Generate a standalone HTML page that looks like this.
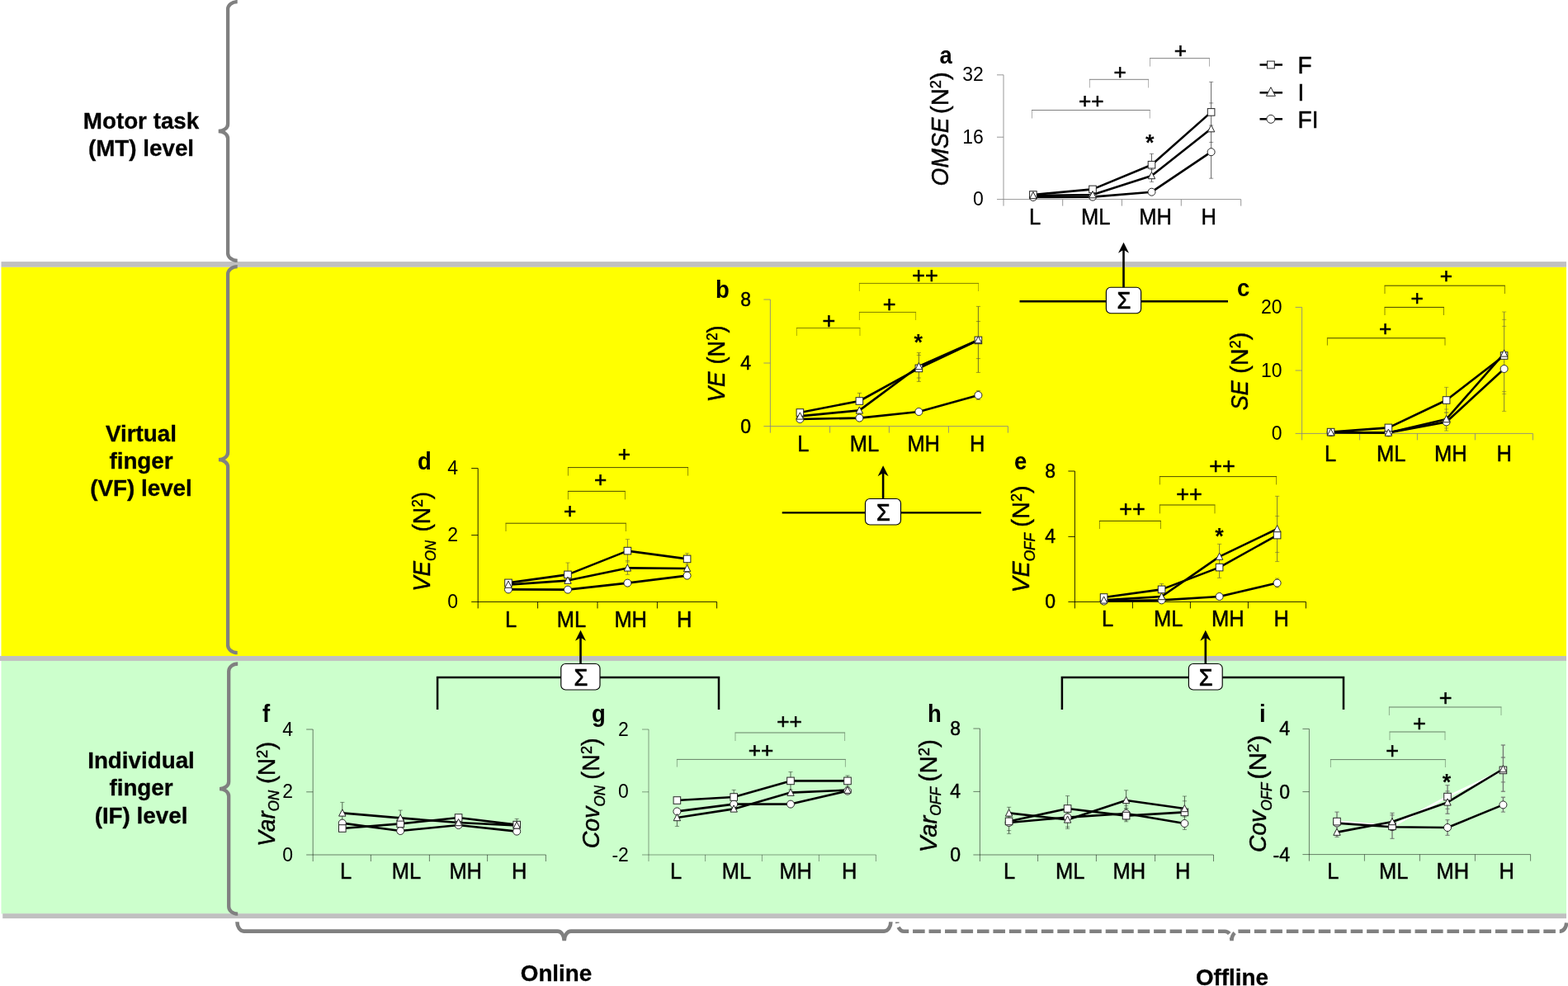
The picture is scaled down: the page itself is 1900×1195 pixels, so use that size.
<!DOCTYPE html>
<html lang="en"><head><meta charset="utf-8"><title>Figure</title>
<style>html,body{margin:0;padding:0;background:#fff;}body{width:1900px;height:1195px;overflow:hidden;}svg{display:block;font-family:"Liberation Sans", Arial, Helvetica, sans-serif;} text{fill:#000;}</style></head><body>
<svg width="1900" height="1195" viewBox="0 0 1900 1195">
<rect x="0" y="0" width="1900" height="1195" fill="#ffffff"/>
<rect x="1.5" y="323.5" width="1896.5" height="472" fill="#ffff00"/>
<rect x="1.5" y="800.5" width="1896.5" height="307" fill="#ccffcc"/>
<rect x="1.5" y="317.1" width="1896.5" height="6.6" fill="#c0c0c0"/>
<rect x="0" y="795.05" width="1898" height="5.9" fill="#c0c0c0"/>
<rect x="3.2" y="1107.2" width="1894.8" height="5.9" fill="#c0c0c0"/>
<path d="M287.7,2.1 A11.6,9 0 0 0 276.1,11.1 L276.1,150.2 A11.4,8.8 0 0 1 264.7,159 A11.4,8.8 0 0 1 276.1,167.8 L276.1,306.9 A11.6,9 0 0 0 287.7,315.9" fill="none" stroke="#808080" stroke-width="4.3" stroke-linejoin="miter"/>
<path d="M287.7,323.2 A11.6,9 0 0 0 276.1,332.2 L276.1,548.35 A11.2,8.8 0 0 1 264.9,557.15 A11.2,8.8 0 0 1 276.1,565.95 L276.1,782.1 A11.6,9 0 0 0 287.7,791.1" fill="none" stroke="#808080" stroke-width="4.3" stroke-linejoin="miter"/>
<path d="M288.2,804.5 A11,9 0 0 0 277.2,813.5 L277.2,947.3 A11.2,8.8 0 0 1 266,956.1 A11.2,8.8 0 0 1 277.2,964.9 L277.2,1098.7 A11,9 0 0 0 288.2,1107.7" fill="none" stroke="#808080" stroke-width="4.3" stroke-linejoin="miter"/>
<path d="M287.4,1117.3 A8,11.3 0 0 0 295.4,1128.6 L675.5,1128.6 A8.2,11.6 0 0 1 683.7,1140.2 A8.2,11.6 0 0 1 691.9,1128.6 L1071.4,1128.6 A8,11.3 0 0 0 1079.4,1117.3" fill="none" stroke="#808080" stroke-width="4.6"/>
<path d="M1087.3,1117.4 A8,11.3 0 0 0 1095.3,1128.7 L1484.3,1128.7 A8.2,11.5 0 0 1 1492.5,1140.2 A8.2,11.5 0 0 1 1500.7,1128.7 L1890.3,1128.7 A8,11.3 0 0 0 1898.3,1117.4" fill="none" stroke="#808080" stroke-width="4.6" stroke-dasharray="14.6 4.87" stroke-dashoffset="13"/>
<text transform="translate(171,155.6) scale(1,1.02)" font-size="27.8" text-anchor="middle" font-weight="bold" stroke="#000" stroke-width="0.3">Motor task</text>
<text transform="translate(171,189.3) scale(1,1.02)" font-size="27.8" text-anchor="middle" font-weight="bold" stroke="#000" stroke-width="0.3">(MT) level</text>
<text transform="translate(171,534.7) scale(1,1.02)" font-size="27.8" text-anchor="middle" font-weight="bold" stroke="#000" stroke-width="0.3">Virtual</text>
<text transform="translate(171,567.7) scale(1,1.02)" font-size="27.8" text-anchor="middle" font-weight="bold" stroke="#000" stroke-width="0.3">finger</text>
<text transform="translate(171,601) scale(1,1.02)" font-size="27.8" text-anchor="middle" font-weight="bold" stroke="#000" stroke-width="0.3">(VF) level</text>
<text transform="translate(171,931.4) scale(1,1.02)" font-size="27.8" text-anchor="middle" font-weight="bold" stroke="#000" stroke-width="0.3">Individual</text>
<text transform="translate(171,964.4) scale(1,1.02)" font-size="27.8" text-anchor="middle" font-weight="bold" stroke="#000" stroke-width="0.3">finger</text>
<text transform="translate(171,998) scale(1,1.02)" font-size="27.8" text-anchor="middle" font-weight="bold" stroke="#000" stroke-width="0.3">(IF) level</text>
<text transform="translate(674,1188.5) scale(1,1.02)" font-size="27.8" text-anchor="middle" font-weight="bold" stroke="#000" stroke-width="0.3">Online</text>
<text transform="translate(1493,1193.6) scale(1,1.02)" font-size="27.8" text-anchor="middle" font-weight="bold" stroke="#000" stroke-width="0.3">Offline</text>
<path d="M1235.5,365.2 H1488" stroke="#000" stroke-width="2.4" fill="none"/>
<line x1="1361.5" y1="299.8" x2="1361.5" y2="349" stroke="#000" stroke-width="2.6"/>
<path d="M1361.5,293.8 L1368,306.8 L1361.5,302.8 L1355,306.8 Z" fill="#000"/>
<rect x="1340.4" y="348.25" width="42.2" height="31.5" rx="5.5" ry="5.5" fill="#ffffff" stroke="#000000" stroke-width="1.15"/>
<text transform="translate(1361.9,374.4) scale(0.97,1.05)" font-size="28" text-anchor="middle" stroke="#000" stroke-width="0.7">Σ</text>
<path d="M947.7,621.4 H1189" stroke="#000" stroke-width="2.4" fill="none"/>
<line x1="1070.1" y1="570.3" x2="1070.1" y2="605" stroke="#000" stroke-width="2.6"/>
<path d="M1070.1,564.3 L1076.6,577.3 L1070.1,573.3 L1063.6,577.3 Z" fill="#000"/>
<rect x="1048.5" y="604.45" width="43" height="31.5" rx="5.5" ry="5.5" fill="#ffffff" stroke="#000000" stroke-width="1.15"/>
<text transform="translate(1070.4,630.6) scale(0.97,1.05)" font-size="28" text-anchor="middle" stroke="#000" stroke-width="0.7">Σ</text>
<path d="M530.1,860 V821 H871 V860" stroke="#000" stroke-width="2.5" fill="none" stroke-linejoin="miter"/>
<line x1="703.5" y1="769.8" x2="703.5" y2="805" stroke="#000" stroke-width="2.6"/>
<path d="M703.5,763.8 L710,776.8 L703.5,772.8 L697,776.8 Z" fill="#000"/>
<rect x="679.8" y="804.45" width="47.2" height="31.5" rx="5.5" ry="5.5" fill="#ffffff" stroke="#000000" stroke-width="1.15"/>
<text transform="translate(703.8,830.6) scale(0.97,1.05)" font-size="28" text-anchor="middle" stroke="#000" stroke-width="0.7">Σ</text>
<path d="M1286.9,860 V821 H1628 V860" stroke="#000" stroke-width="2.5" fill="none" stroke-linejoin="miter"/>
<line x1="1460.8" y1="769.8" x2="1460.8" y2="805" stroke="#000" stroke-width="2.6"/>
<path d="M1460.8,763.8 L1467.3,776.8 L1460.8,772.8 L1454.3,776.8 Z" fill="#000"/>
<rect x="1440.4" y="804.45" width="40.8" height="31.5" rx="5.5" ry="5.5" fill="#ffffff" stroke="#000000" stroke-width="1.15"/>
<text transform="translate(1461.2,830.6) scale(0.97,1.05)" font-size="28" text-anchor="middle" stroke="#000" stroke-width="0.7">Σ</text>
<g stroke="#868686" stroke-opacity="0.85" stroke-width="1" fill="none">
<path d="M1216,90.8 V249.6"/>
<path d="M1208,241.6 H1503.7"/>
<path d="M1208,90.8 H1216"/>
<path d="M1208,166.2 H1216"/>
<path d="M1287.7,241.6 V249.6"/>
<path d="M1359.4,241.6 V249.6"/>
<path d="M1431.3,241.6 V249.6"/>
<path d="M1503.7,241.6 V249.6"/>
</g>
<text transform="translate(1191.9,98.3) scale(1,1.03)" font-size="23" text-anchor="end">32</text>
<text transform="translate(1191.9,173.7) scale(1,1.03)" font-size="23" text-anchor="end">16</text>
<text transform="translate(1191.9,249.1) scale(1,1.03)" font-size="23" text-anchor="end">0</text>
<text transform="translate(1254,272) scale(1,1.06)" font-size="25.5" text-anchor="middle" stroke="#000" stroke-width="0.45">L</text>
<text transform="translate(1327.8,272) scale(1,1.06)" font-size="25.5" text-anchor="middle" stroke="#000" stroke-width="0.45">ML</text>
<text transform="translate(1400,272) scale(1,1.06)" font-size="25.5" text-anchor="middle" stroke="#000" stroke-width="0.45">MH</text>
<text transform="translate(1464.6,272) scale(1,1.06)" font-size="25.5" text-anchor="middle" stroke="#000" stroke-width="0.45">H</text>
<g stroke="#000" stroke-opacity="0.5" stroke-width="1" fill="none">
<path d="M1250,133.5 H1393.8"/>
<path d="M1250.5,143.5 V134 M1393.3,134 V143.5" stroke-opacity="0.31"/>
<path d="M1319.9,96.3 H1392.1"/>
<path d="M1320.4,106.4 V96.8 M1391.6,96.8 V106.4" stroke-opacity="0.31"/>
<path d="M1393,70.7 H1466"/>
<path d="M1393.5,80.6 V71.2 M1465.5,71.2 V80.6" stroke-opacity="0.31"/>
</g>
<text x="1322.3" y="131.4" font-size="26.2" text-anchor="middle" stroke="#000" stroke-width="0.55" stroke-linejoin="miter">++</text>
<text x="1357.2" y="95.5" font-size="26.2" text-anchor="middle" stroke="#000" stroke-width="0.55" stroke-linejoin="miter">+</text>
<text x="1430.5" y="69.5" font-size="26.2" text-anchor="middle" stroke="#000" stroke-width="0.55" stroke-linejoin="miter">+</text>
<text transform="translate(1393.2,181.5) scale(1,1.04)" font-size="27" text-anchor="middle" font-weight="bold">*</text>
<g stroke="#000" stroke-opacity="0.6" stroke-width="1" fill="none">
<path d="M1467.6,99.3 V216.2 M1395.5,186.4 V220.4"/>
<path d="M1465,99.3 H1470.2 M1465,172.4 H1470.2 M1465,124.9 H1470.2 M1465,187 H1470.2 M1465,152 H1470.2 M1465,216.2 H1470.2 M1392.9,186.4 H1398.1 M1392.9,211.6 H1398.1 M1392.9,205.6 H1398.1 M1392.9,220.4 H1398.1" stroke-opacity="0.42"/>
</g>
<polyline points="1251.9,236 1324,229.4 1395.5,199.7 1467.6,135.9" fill="none" stroke="#000000" stroke-width="2.6" stroke-linejoin="round"/>
<polyline points="1251.9,237 1324,236.1 1395.5,213 1467.6,156.1" fill="none" stroke="#000000" stroke-width="2.6" stroke-linejoin="round"/>
<polyline points="1251.9,239 1324,238.6 1395.5,232.7 1467.6,184.2" fill="none" stroke="#000000" stroke-width="2.6" stroke-linejoin="round"/>
<circle cx="1251.9" cy="239" r="4.5" fill="#ffffff" stroke="#262626" stroke-width="1"/>
<circle cx="1324" cy="238.6" r="4.5" fill="#ffffff" stroke="#262626" stroke-width="1"/>
<circle cx="1395.5" cy="232.7" r="4.5" fill="#ffffff" stroke="#262626" stroke-width="1"/>
<circle cx="1467.6" cy="184.2" r="4.5" fill="#ffffff" stroke="#262626" stroke-width="1"/>
<rect x="1247.6" y="231.7" width="8.6" height="8.6" fill="#ffffff" stroke="#262626" stroke-width="1"/>
<rect x="1319.7" y="225.1" width="8.6" height="8.6" fill="#ffffff" stroke="#262626" stroke-width="1"/>
<rect x="1391.2" y="195.4" width="8.6" height="8.6" fill="#ffffff" stroke="#262626" stroke-width="1"/>
<rect x="1463.3" y="131.6" width="8.6" height="8.6" fill="#ffffff" stroke="#262626" stroke-width="1"/>
<path d="M1251.9,232.5 L1256.1,240.7 L1247.7,240.7 Z" fill="#ffffff" stroke="#262626" stroke-width="1"/>
<path d="M1324,231.6 L1328.2,239.8 L1319.8,239.8 Z" fill="#ffffff" stroke="#262626" stroke-width="1"/>
<path d="M1395.5,208.5 L1399.7,216.7 L1391.3,216.7 Z" fill="#ffffff" stroke="#262626" stroke-width="1"/>
<path d="M1467.6,151.6 L1471.8,159.8 L1463.4,159.8 Z" fill="#ffffff" stroke="#262626" stroke-width="1"/>
<text transform="translate(1138.4,77.3) scale(1,1.04)" font-size="27.5" text-anchor="start" font-weight="bold">a</text>
<text transform="translate(1148.8,225.4) rotate(-90) scale(1,1.04)" font-size="28.5" textLength="82.9" lengthAdjust="spacingAndGlyphs" class="yl" stroke="#000" stroke-width="0.45"><tspan font-style="italic">OMSE</tspan></text>
<text transform="translate(1148.8,138) rotate(-90) scale(1,1.04)" font-size="28.5" textLength="50.7" lengthAdjust="spacingAndGlyphs" class="yl" stroke="#000" stroke-width="0.45"><tspan>(N</tspan><tspan font-size="17.67" dy="-8.55">2</tspan><tspan dy="8.55">)</tspan></text>
<g stroke="#868686" stroke-opacity="0.85" stroke-width="1" fill="none">
<path d="M933.4,363 V524.6"/>
<path d="M925.4,516.6 H1221.4"/>
<path d="M925.4,363 H933.4"/>
<path d="M925.4,440 H933.4"/>
<path d="M1005.6,516.6 V524.6"/>
<path d="M1077.4,516.6 V524.6"/>
<path d="M1149.4,516.6 V524.6"/>
<path d="M1221.4,516.6 V524.6"/>
</g>
<text transform="translate(910,370.9) scale(1,1.04)" font-size="23" text-anchor="end" stroke="#000" stroke-width="0.45">8</text>
<text transform="translate(910,447.9) scale(1,1.04)" font-size="23" text-anchor="end" stroke="#000" stroke-width="0.45">4</text>
<text transform="translate(910,524.5) scale(1,1.04)" font-size="23" text-anchor="end" stroke="#000" stroke-width="0.45">0</text>
<text transform="translate(973.4,547) scale(1,1.06)" font-size="25.5" text-anchor="middle" stroke="#000" stroke-width="0.45">L</text>
<text transform="translate(1047.4,547) scale(1,1.06)" font-size="25.5" text-anchor="middle" stroke="#000" stroke-width="0.45">ML</text>
<text transform="translate(1119.2,547) scale(1,1.06)" font-size="25.5" text-anchor="middle" stroke="#000" stroke-width="0.45">MH</text>
<text transform="translate(1184.2,547) scale(1,1.06)" font-size="25.5" text-anchor="middle" stroke="#000" stroke-width="0.45">H</text>
<g stroke="#000" stroke-opacity="0.5" stroke-width="1" fill="none">
<path d="M964.9,397.6 H1042.5"/>
<path d="M965.4,407 V398.1 M1042,398.1 V407" stroke-opacity="0.31"/>
<path d="M1040.9,378.4 H1110.1"/>
<path d="M1041.4,388 V378.9 M1109.6,378.9 V388" stroke-opacity="0.31"/>
<path d="M1040.9,343.4 H1186.1"/>
<path d="M1041.4,353 V343.9 M1185.6,343.9 V353" stroke-opacity="0.31"/>
</g>
<text x="1004.4" y="398.35" font-size="27" text-anchor="middle" stroke="#000" stroke-width="0.55" stroke-linejoin="miter">+</text>
<text x="1077.6" y="377.55" font-size="27" text-anchor="middle" stroke="#000" stroke-width="0.55" stroke-linejoin="miter">+</text>
<text x="1121" y="342.95" font-size="27" text-anchor="middle" stroke="#000" stroke-width="0.55" stroke-linejoin="miter">++</text>
<text transform="translate(1112.8,423.5) scale(1,1.04)" font-size="27" text-anchor="middle" font-weight="bold">*</text>
<g stroke="#4f4f2f" stroke-opacity="0.8" stroke-width="1" fill="none">
<path d="M1041.4,476.4 V486 M1113.4,427.6 V462.4 M1185.4,371.4 V451.4 M1185.4,473.4 V484.4"/>
<path d="M1038.8,476.4 H1044 M1038.8,486 H1044 M1110.8,430.4 H1116 M1110.8,462.4 H1116 M1110.8,427.6 H1116 M1110.8,458 H1116 M1182.8,371.4 H1188 M1182.8,451.4 H1188 M1182.8,389.6 H1188 M1182.8,434.6 H1188 M1182.8,473.4 H1188 M1182.8,484.4 H1188" stroke-opacity="0.56"/>
</g>
<polyline points="969.4,500 1041.4,486 1113.4,446.4 1185.4,412.4" fill="none" stroke="#000000" stroke-width="2.6" stroke-linejoin="round"/>
<polyline points="969.4,504.4 1041.4,497.4 1113.4,444 1185.4,412" fill="none" stroke="#000000" stroke-width="2.6" stroke-linejoin="round"/>
<polyline points="969.4,508 1041.4,506.6 1113.4,499 1185.4,479" fill="none" stroke="#000000" stroke-width="2.6" stroke-linejoin="round"/>
<circle cx="969.4" cy="508" r="4.5" fill="#ffffff" stroke="#262626" stroke-width="1"/>
<circle cx="1041.4" cy="506.6" r="4.5" fill="#ffffff" stroke="#262626" stroke-width="1"/>
<circle cx="1113.4" cy="499" r="4.5" fill="#ffffff" stroke="#262626" stroke-width="1"/>
<circle cx="1185.4" cy="479" r="4.5" fill="#ffffff" stroke="#262626" stroke-width="1"/>
<rect x="965.1" y="495.7" width="8.6" height="8.6" fill="#ffffff" stroke="#262626" stroke-width="1"/>
<rect x="1037.1" y="481.7" width="8.6" height="8.6" fill="#ffffff" stroke="#262626" stroke-width="1"/>
<rect x="1109.1" y="442.1" width="8.6" height="8.6" fill="#ffffff" stroke="#262626" stroke-width="1"/>
<rect x="1181.1" y="408.1" width="8.6" height="8.6" fill="#ffffff" stroke="#262626" stroke-width="1"/>
<path d="M969.4,499.9 L973.6,508.1 L965.2,508.1 Z" fill="#ffffff" stroke="#262626" stroke-width="1"/>
<path d="M1041.4,492.9 L1045.6,501.1 L1037.2,501.1 Z" fill="#ffffff" stroke="#262626" stroke-width="1"/>
<path d="M1113.4,439.5 L1117.6,447.7 L1109.2,447.7 Z" fill="#ffffff" stroke="#262626" stroke-width="1"/>
<path d="M1185.4,407.5 L1189.6,415.7 L1181.2,415.7 Z" fill="#ffffff" stroke="#262626" stroke-width="1"/>
<text transform="translate(867,360.6) scale(1,1.04)" font-size="27.5" text-anchor="start" font-weight="bold">b</text>
<text transform="translate(877.9,487.4) rotate(-90) scale(1,1.04)" font-size="28.5" textLength="36.9" lengthAdjust="spacingAndGlyphs" class="yl" stroke="#000" stroke-width="0.45"><tspan font-style="italic">VE</tspan></text>
<text transform="translate(877.9,441.4) rotate(-90) scale(1,1.04)" font-size="28.5" textLength="46.9" lengthAdjust="spacingAndGlyphs" class="yl" stroke="#000" stroke-width="0.45"><tspan>(N</tspan><tspan font-size="17.67" dy="-8.55">2</tspan><tspan dy="8.55">)</tspan></text>
<g stroke="#868686" stroke-opacity="0.85" stroke-width="1" fill="none">
<path d="M1577.6,372.4 V533.4"/>
<path d="M1569.6,525.4 H1857.4"/>
<path d="M1569.6,372.4 H1577.6"/>
<path d="M1569.6,449 H1577.6"/>
<path d="M1647.6,525.4 V533.4"/>
<path d="M1717.4,525.4 V533.4"/>
<path d="M1787.4,525.4 V533.4"/>
<path d="M1857.4,525.4 V533.4"/>
</g>
<text transform="translate(1553.5,379.9) scale(1,1.03)" font-size="23" text-anchor="end">20</text>
<text transform="translate(1553.5,456.5) scale(1,1.03)" font-size="23" text-anchor="end">10</text>
<text transform="translate(1553.5,532.9) scale(1,1.03)" font-size="23" text-anchor="end">0</text>
<text transform="translate(1612,558.5) scale(1,1.06)" font-size="25.5" text-anchor="middle" stroke="#000" stroke-width="0.45">L</text>
<text transform="translate(1685.8,558.5) scale(1,1.06)" font-size="25.5" text-anchor="middle" stroke="#000" stroke-width="0.45">ML</text>
<text transform="translate(1757.8,558.5) scale(1,1.06)" font-size="25.5" text-anchor="middle" stroke="#000" stroke-width="0.45">MH</text>
<text transform="translate(1822.8,558.5) scale(1,1.06)" font-size="25.5" text-anchor="middle" stroke="#000" stroke-width="0.45">H</text>
<g stroke="#000" stroke-opacity="0.75" stroke-width="1" fill="none">
<path d="M1607.9,409.8 H1751.5"/>
<path d="M1608.4,418.6 V410.3 M1751,410.3 V418.6" stroke-opacity="0.46"/>
<path d="M1677.5,372.4 H1749.9"/>
<path d="M1678,382 V372.9 M1749.4,372.9 V382" stroke-opacity="0.46"/>
<path d="M1677.5,346.2 H1823.9"/>
<path d="M1678,356 V346.7 M1823.4,346.7 V356" stroke-opacity="0.46"/>
</g>
<text x="1678.6" y="406.5" font-size="26.2" text-anchor="middle" stroke="#000" stroke-width="0.55" stroke-linejoin="miter">+</text>
<text x="1717.2" y="369.5" font-size="26.2" text-anchor="middle" stroke="#000" stroke-width="0.55" stroke-linejoin="miter">+</text>
<text x="1752.4" y="343.1" font-size="26.2" text-anchor="middle" stroke="#000" stroke-width="0.55" stroke-linejoin="miter">+</text>
<g stroke="#5f5f3f" stroke-opacity="0.75" stroke-width="1" fill="none">
<path d="M1752.6,469.4 V522 M1822.6,378 V498.4"/>
<path d="M1750,469.4 H1755.2 M1750,500 H1755.2 M1750,496 H1755.2 M1750,519 H1755.2 M1750,500 H1755.2 M1750,522 H1755.2 M1820,387.4 H1825.2 M1820,474.6 H1825.2 M1820,378 H1825.2 M1820,477.4 H1825.2 M1820,395.4 H1825.2 M1820,498.4 H1825.2" stroke-opacity="0.52"/>
</g>
<polyline points="1612.6,523.6 1682.4,518.4 1752.6,485 1822.6,431" fill="none" stroke="#000000" stroke-width="2.6" stroke-linejoin="round"/>
<polyline points="1612.6,524.2 1682.4,524.6 1752.6,508 1822.6,428.4" fill="none" stroke="#000000" stroke-width="2.6" stroke-linejoin="round"/>
<polyline points="1612.6,524 1682.4,524.4 1752.6,511.4 1822.6,447" fill="none" stroke="#000000" stroke-width="2.6" stroke-linejoin="round"/>
<circle cx="1612.6" cy="524" r="4.5" fill="#ffffff" stroke="#262626" stroke-width="1"/>
<circle cx="1682.4" cy="524.4" r="4.5" fill="#ffffff" stroke="#262626" stroke-width="1"/>
<circle cx="1752.6" cy="511.4" r="4.5" fill="#ffffff" stroke="#262626" stroke-width="1"/>
<circle cx="1822.6" cy="447" r="4.5" fill="#ffffff" stroke="#262626" stroke-width="1"/>
<rect x="1608.3" y="519.3" width="8.6" height="8.6" fill="#ffffff" stroke="#262626" stroke-width="1"/>
<rect x="1678.1" y="514.1" width="8.6" height="8.6" fill="#ffffff" stroke="#262626" stroke-width="1"/>
<rect x="1748.3" y="480.7" width="8.6" height="8.6" fill="#ffffff" stroke="#262626" stroke-width="1"/>
<rect x="1818.3" y="426.7" width="8.6" height="8.6" fill="#ffffff" stroke="#262626" stroke-width="1"/>
<path d="M1612.6,519.7 L1616.8,527.9 L1608.4,527.9 Z" fill="#ffffff" stroke="#262626" stroke-width="1"/>
<path d="M1682.4,520.1 L1686.6,528.3 L1678.2,528.3 Z" fill="#ffffff" stroke="#262626" stroke-width="1"/>
<path d="M1752.6,503.5 L1756.8,511.7 L1748.4,511.7 Z" fill="#ffffff" stroke="#262626" stroke-width="1"/>
<path d="M1822.6,423.9 L1826.8,432.1 L1818.4,432.1 Z" fill="#ffffff" stroke="#262626" stroke-width="1"/>
<text transform="translate(1499,359) scale(1,1.04)" font-size="27.5" text-anchor="start" font-weight="bold">c</text>
<text transform="translate(1511.8,497.3) rotate(-90) scale(1,1.04)" font-size="28.5" textLength="36" lengthAdjust="spacingAndGlyphs" class="yl" stroke="#000" stroke-width="0.45"><tspan font-style="italic">SE</tspan></text>
<text transform="translate(1511.8,452.8) rotate(-90) scale(1,1.04)" font-size="28.5" textLength="50.1" lengthAdjust="spacingAndGlyphs" class="yl" stroke="#000" stroke-width="0.45"><tspan>(N</tspan><tspan font-size="17.67" dy="-8.55">2</tspan><tspan dy="8.55">)</tspan></text>
<g stroke="#000" stroke-opacity="0.85" stroke-width="1" fill="none">
<path d="M579.2,567.6 V737.4"/>
<path d="M571.2,729.4 H868.6"/>
<path d="M571.2,567.6 H579.2"/>
<path d="M571.2,648.6 H579.2"/>
<path d="M651.6,729.4 V737.4"/>
<path d="M724,729.4 V737.4"/>
<path d="M796.4,729.4 V737.4"/>
<path d="M868.6,729.4 V737.4"/>
</g>
<text transform="translate(555.1,575.1) scale(1,1.03)" font-size="23" text-anchor="end">4</text>
<text transform="translate(555.1,656.1) scale(1,1.03)" font-size="23" text-anchor="end">2</text>
<text transform="translate(555.1,736.9) scale(1,1.03)" font-size="23" text-anchor="end">0</text>
<text transform="translate(619,760.1) scale(1,1.06)" font-size="25.5" text-anchor="middle" stroke="#000" stroke-width="0.45">L</text>
<text transform="translate(692.4,760.1) scale(1,1.06)" font-size="25.5" text-anchor="middle" stroke="#000" stroke-width="0.45">ML</text>
<text transform="translate(764.2,760.1) scale(1,1.06)" font-size="25.5" text-anchor="middle" stroke="#000" stroke-width="0.45">MH</text>
<text transform="translate(829.2,760.1) scale(1,1.06)" font-size="25.5" text-anchor="middle" stroke="#000" stroke-width="0.45">H</text>
<g stroke="#000" stroke-opacity="0.7" stroke-width="1" fill="none">
<path d="M612.5,634.2 H758.9"/>
<path d="M613,644 V634.7 M758.4,634.7 V644" stroke-opacity="0.43"/>
<path d="M687.9,595.4 H757.9"/>
<path d="M688.4,605.4 V595.9 M757.4,595.9 V605.4" stroke-opacity="0.43"/>
<path d="M687.9,566.6 H834.1"/>
<path d="M688.4,576.6 V567.1 M833.6,567.1 V576.6" stroke-opacity="0.43"/>
</g>
<text x="690.6" y="627.7" font-size="26.2" text-anchor="middle" stroke="#000" stroke-width="0.55" stroke-linejoin="miter">+</text>
<text x="727.6" y="589.7" font-size="26.2" text-anchor="middle" stroke="#000" stroke-width="0.55" stroke-linejoin="miter">+</text>
<text x="756.4" y="559.1" font-size="26.2" text-anchor="middle" stroke="#000" stroke-width="0.55" stroke-linejoin="miter">+</text>
<g stroke="#5f5f3f" stroke-opacity="0.75" stroke-width="1" fill="none">
<path d="M688,682 V696.4 M760.4,653.6 V696.4 M832.6,670.6 V684"/>
<path d="M685.4,682 H690.6 M685.4,696.4 H690.6 M757.8,653.6 H763 M757.8,681 H763 M757.8,679.4 H763 M757.8,696.4 H763 M830,670.6 H835.2 M830,684 H835.2" stroke-opacity="0.52"/>
</g>
<polyline points="616,706.4 688,696.4 760.4,667.6 832.6,677.4" fill="none" stroke="#000000" stroke-width="2.6" stroke-linejoin="round"/>
<polyline points="616,708.6 688,703.6 760.4,688.4 832.6,689" fill="none" stroke="#000000" stroke-width="2.6" stroke-linejoin="round"/>
<polyline points="616,714.4 688,714.6 760.4,706.6 832.6,697.6" fill="none" stroke="#000000" stroke-width="2.6" stroke-linejoin="round"/>
<circle cx="616" cy="714.4" r="4.5" fill="#ffffff" stroke="#262626" stroke-width="1"/>
<circle cx="688" cy="714.6" r="4.5" fill="#ffffff" stroke="#262626" stroke-width="1"/>
<circle cx="760.4" cy="706.6" r="4.5" fill="#ffffff" stroke="#262626" stroke-width="1"/>
<circle cx="832.6" cy="697.6" r="4.5" fill="#ffffff" stroke="#262626" stroke-width="1"/>
<rect x="611.7" y="702.1" width="8.6" height="8.6" fill="#ffffff" stroke="#262626" stroke-width="1"/>
<rect x="683.7" y="692.1" width="8.6" height="8.6" fill="#ffffff" stroke="#262626" stroke-width="1"/>
<rect x="756.1" y="663.3" width="8.6" height="8.6" fill="#ffffff" stroke="#262626" stroke-width="1"/>
<rect x="828.3" y="673.1" width="8.6" height="8.6" fill="#ffffff" stroke="#262626" stroke-width="1"/>
<path d="M616,704.1 L620.2,712.3 L611.8,712.3 Z" fill="#ffffff" stroke="#262626" stroke-width="1"/>
<path d="M688,699.1 L692.2,707.3 L683.8,707.3 Z" fill="#ffffff" stroke="#262626" stroke-width="1"/>
<path d="M760.4,683.9 L764.6,692.1 L756.2,692.1 Z" fill="#ffffff" stroke="#262626" stroke-width="1"/>
<path d="M832.6,684.5 L836.8,692.7 L828.4,692.7 Z" fill="#ffffff" stroke="#262626" stroke-width="1"/>
<text transform="translate(506,568.6) scale(1,1.04)" font-size="27.5" text-anchor="start" font-weight="bold">d</text>
<text transform="translate(521,716.9) rotate(-90) scale(1,1.04)" font-size="28.5" textLength="62" lengthAdjust="spacingAndGlyphs" class="yl" stroke="#000" stroke-width="0.45"><tspan font-style="italic">VE</tspan><tspan font-style="italic" font-size="17.1" dy="6.7">ON</tspan></text>
<text transform="translate(521,644.5) rotate(-90) scale(1,1.04)" font-size="28.5" textLength="48.7" lengthAdjust="spacingAndGlyphs" class="yl" stroke="#000" stroke-width="0.45"><tspan>(N</tspan><tspan font-size="17.67" dy="-8.55">2</tspan><tspan dy="8.55">)</tspan></text>
<g stroke="#000" stroke-opacity="0.85" stroke-width="1" fill="none">
<path d="M1302.4,571 V737.4"/>
<path d="M1294.4,729.4 H1582.4"/>
<path d="M1294.4,571 H1302.4"/>
<path d="M1294.4,650.4 H1302.4"/>
<path d="M1372.4,729.4 V737.4"/>
<path d="M1442.4,729.4 V737.4"/>
<path d="M1512.4,729.4 V737.4"/>
<path d="M1582.4,729.4 V737.4"/>
</g>
<text transform="translate(1279,578.9) scale(1,1.04)" font-size="23" text-anchor="end" stroke="#000" stroke-width="0.45">8</text>
<text transform="translate(1279,658.3) scale(1,1.04)" font-size="23" text-anchor="end" stroke="#000" stroke-width="0.45">4</text>
<text transform="translate(1279,737.3) scale(1,1.04)" font-size="23" text-anchor="end" stroke="#000" stroke-width="0.45">0</text>
<text transform="translate(1342,759.1) scale(1,1.06)" font-size="25.5" text-anchor="middle" stroke="#000" stroke-width="0.45">L</text>
<text transform="translate(1415.8,759.1) scale(1,1.06)" font-size="25.5" text-anchor="middle" stroke="#000" stroke-width="0.45">ML</text>
<text transform="translate(1487.8,759.1) scale(1,1.06)" font-size="25.5" text-anchor="middle" stroke="#000" stroke-width="0.45">MH</text>
<text transform="translate(1552.8,759.1) scale(1,1.06)" font-size="25.5" text-anchor="middle" stroke="#000" stroke-width="0.45">H</text>
<g stroke="#000" stroke-opacity="0.7" stroke-width="1" fill="none">
<path d="M1331.9,631.4 H1406.9"/>
<path d="M1332.4,641 V631.9 M1406.4,631.9 V641" stroke-opacity="0.43"/>
<path d="M1404.9,612 H1472.5"/>
<path d="M1405.4,622.4 V612.5 M1472,612.5 V622.4" stroke-opacity="0.43"/>
<path d="M1404.9,577.6 H1547.1"/>
<path d="M1405.4,587.4 V578.1 M1546.6,578.1 V587.4" stroke-opacity="0.43"/>
</g>
<text x="1372" y="626.35" font-size="27" text-anchor="middle" stroke="#000" stroke-width="0.55" stroke-linejoin="miter">++</text>
<text x="1441" y="608.35" font-size="27" text-anchor="middle" stroke="#000" stroke-width="0.55" stroke-linejoin="miter">++</text>
<text x="1481" y="573.55" font-size="27" text-anchor="middle" stroke="#000" stroke-width="0.55" stroke-linejoin="miter">++</text>
<text transform="translate(1477.4,658.5) scale(1,1.04)" font-size="27" text-anchor="middle" font-weight="bold">*</text>
<g stroke="#5f5f3f" stroke-opacity="0.8" stroke-width="1" fill="none">
<path d="M1407.6,707.4 V714.4 M1477.6,659.4 V700.4 M1547.6,601.4 V680.6 M1547.6,701 V712"/>
<path d="M1405,707.4 H1410.2 M1405,714.4 H1410.2 M1475,659.4 H1480.2 M1475,690 H1480.2 M1475,674.6 H1480.2 M1475,700.4 H1480.2 M1545,601.4 H1550.2 M1545,680.6 H1550.2 M1545,625.6 H1550.2 M1545,669.4 H1550.2 M1545,701 H1550.2 M1545,712 H1550.2" stroke-opacity="0.56"/>
</g>
<polyline points="1337.6,724 1407.6,714.4 1477.6,687.6 1547.6,648.6" fill="none" stroke="#000000" stroke-width="2.6" stroke-linejoin="round"/>
<polyline points="1337.6,727.4 1407.6,723 1477.6,674.6 1547.6,641" fill="none" stroke="#000000" stroke-width="2.6" stroke-linejoin="round"/>
<polyline points="1337.6,728.6 1407.6,727.4 1477.6,723 1547.6,706.6" fill="none" stroke="#000000" stroke-width="2.6" stroke-linejoin="round"/>
<circle cx="1337.6" cy="728.6" r="4.5" fill="#ffffff" stroke="#262626" stroke-width="1"/>
<circle cx="1407.6" cy="727.4" r="4.5" fill="#ffffff" stroke="#262626" stroke-width="1"/>
<circle cx="1477.6" cy="723" r="4.5" fill="#ffffff" stroke="#262626" stroke-width="1"/>
<circle cx="1547.6" cy="706.6" r="4.5" fill="#ffffff" stroke="#262626" stroke-width="1"/>
<rect x="1333.3" y="719.7" width="8.6" height="8.6" fill="#ffffff" stroke="#262626" stroke-width="1"/>
<rect x="1403.3" y="710.1" width="8.6" height="8.6" fill="#ffffff" stroke="#262626" stroke-width="1"/>
<rect x="1473.3" y="683.3" width="8.6" height="8.6" fill="#ffffff" stroke="#262626" stroke-width="1"/>
<rect x="1543.3" y="644.3" width="8.6" height="8.6" fill="#ffffff" stroke="#262626" stroke-width="1"/>
<path d="M1337.6,722.9 L1341.8,731.1 L1333.4,731.1 Z" fill="#ffffff" stroke="#262626" stroke-width="1"/>
<path d="M1407.6,718.5 L1411.8,726.7 L1403.4,726.7 Z" fill="#ffffff" stroke="#262626" stroke-width="1"/>
<path d="M1477.6,670.1 L1481.8,678.3 L1473.4,678.3 Z" fill="#ffffff" stroke="#262626" stroke-width="1"/>
<path d="M1547.6,636.5 L1551.8,644.7 L1543.4,644.7 Z" fill="#ffffff" stroke="#262626" stroke-width="1"/>
<text transform="translate(1229,568.6) scale(1,1.04)" font-size="27.5" text-anchor="start" font-weight="bold">e</text>
<text transform="translate(1246.8,718.6) rotate(-90) scale(1,1.04)" font-size="28.5" textLength="72.7" lengthAdjust="spacingAndGlyphs" class="yl" stroke="#000" stroke-width="0.45"><tspan font-style="italic">VE</tspan><tspan font-style="italic" font-size="17.1" dy="6.84">OFF</tspan></text>
<text transform="translate(1246.8,638.7) rotate(-90) scale(1,1.04)" font-size="28.5" textLength="50.4" lengthAdjust="spacingAndGlyphs" class="yl" stroke="#000" stroke-width="0.45"><tspan>(N</tspan><tspan font-size="17.67" dy="-8.55">2</tspan><tspan dy="8.55">)</tspan></text>
<g stroke="#000" stroke-opacity="0.5" stroke-width="1" fill="none">
<path d="M379.2,884 V1044"/>
<path d="M371.2,1036 H661.4"/>
<path d="M371.2,884 H379.2"/>
<path d="M371.2,959.8 H379.2"/>
<path d="M449.4,1036 V1044"/>
<path d="M520.4,1036 V1044"/>
<path d="M590.6,1036 V1044"/>
<path d="M661.4,1036 V1044"/>
</g>
<text transform="translate(355.1,891.5) scale(1,1.03)" font-size="23" text-anchor="end">4</text>
<text transform="translate(355.1,967.3) scale(1,1.03)" font-size="23" text-anchor="end">2</text>
<text transform="translate(355.1,1043.5) scale(1,1.03)" font-size="23" text-anchor="end">0</text>
<text transform="translate(419,1065.1) scale(1,1.06)" font-size="25.5" text-anchor="middle" stroke="#000" stroke-width="0.45">L</text>
<text transform="translate(492.4,1065.1) scale(1,1.06)" font-size="25.5" text-anchor="middle" stroke="#000" stroke-width="0.45">ML</text>
<text transform="translate(564.2,1065.1) scale(1,1.06)" font-size="25.5" text-anchor="middle" stroke="#000" stroke-width="0.45">MH</text>
<text transform="translate(629.2,1065.1) scale(1,1.06)" font-size="25.5" text-anchor="middle" stroke="#000" stroke-width="0.45">H</text>
<g stroke="#000" stroke-opacity="0.5" stroke-width="1" fill="none">
</g>
<g stroke="#000" stroke-opacity="0.6" stroke-width="1" fill="none">
<path d="M414.8,972.4 V985.4 M414.8,988 V1000 M485.2,982 V991.4 M626.2,992.4 V999.6"/>
<path d="M412.2,972.4 H417.4 M412.2,985.4 H417.4 M412.2,988 H417.4 M412.2,1000 H417.4 M482.6,982 H487.8 M482.6,991.4 H487.8 M623.6,992.4 H628.8 M623.6,999.6 H628.8" stroke-opacity="0.42"/>
</g>
<polyline points="414.8,1004 485.2,998.4 555.6,991 626.2,999.6" fill="none" stroke="#000000" stroke-width="2.6" stroke-linejoin="round"/>
<polyline points="414.8,985.4 485.2,991.4 555.6,997 626.2,1000.4" fill="none" stroke="#000000" stroke-width="2.6" stroke-linejoin="round"/>
<polyline points="414.8,997.6 485.2,1007 555.6,1000 626.2,1007.6" fill="none" stroke="#000000" stroke-width="2.6" stroke-linejoin="round"/>
<circle cx="414.8" cy="997.6" r="4.5" fill="#ffffff" stroke="#262626" stroke-width="1"/>
<circle cx="485.2" cy="1007" r="4.5" fill="#ffffff" stroke="#262626" stroke-width="1"/>
<circle cx="555.6" cy="1000" r="4.5" fill="#ffffff" stroke="#262626" stroke-width="1"/>
<circle cx="626.2" cy="1007.6" r="4.5" fill="#ffffff" stroke="#262626" stroke-width="1"/>
<rect x="410.5" y="999.7" width="8.6" height="8.6" fill="#ffffff" stroke="#262626" stroke-width="1"/>
<rect x="480.9" y="994.1" width="8.6" height="8.6" fill="#ffffff" stroke="#262626" stroke-width="1"/>
<rect x="551.3" y="986.7" width="8.6" height="8.6" fill="#ffffff" stroke="#262626" stroke-width="1"/>
<rect x="621.9" y="995.3" width="8.6" height="8.6" fill="#ffffff" stroke="#262626" stroke-width="1"/>
<path d="M414.8,980.9 L419,989.1 L410.6,989.1 Z" fill="#ffffff" stroke="#262626" stroke-width="1"/>
<path d="M485.2,986.9 L489.4,995.1 L481,995.1 Z" fill="#ffffff" stroke="#262626" stroke-width="1"/>
<path d="M555.6,992.5 L559.8,1000.7 L551.4,1000.7 Z" fill="#ffffff" stroke="#262626" stroke-width="1"/>
<path d="M626.2,995.9 L630.4,1004.1 L622,1004.1 Z" fill="#ffffff" stroke="#262626" stroke-width="1"/>
<text transform="translate(318,875) scale(1,1.04)" font-size="27.5" text-anchor="start" font-weight="bold">f</text>
<text transform="translate(332.5,1025.9) rotate(-90) scale(1,1.04)" font-size="28.5" textLength="68" lengthAdjust="spacingAndGlyphs" class="yl" stroke="#000" stroke-width="0.45"><tspan font-style="italic">Var</tspan><tspan font-style="italic" font-size="17.1" dy="4.85">ON</tspan></text>
<text transform="translate(332.5,950.1) rotate(-90) scale(1,1.04)" font-size="28.5" textLength="51.2" lengthAdjust="spacingAndGlyphs" class="yl" stroke="#000" stroke-width="0.45"><tspan>(N</tspan><tspan font-size="17.67" dy="-8.55">2</tspan><tspan dy="8.55">)</tspan></text>
<g stroke="#000" stroke-opacity="0.38" stroke-width="1" fill="none">
<path d="M786,884 V1044"/>
<path d="M778,1036 H1061.4"/>
<path d="M778,884 H786"/>
<path d="M778,959.8 H786"/>
<path d="M854.6,1036 V1044"/>
<path d="M923.4,1036 V1044"/>
<path d="M992.4,1036 V1044"/>
<path d="M1061.4,1036 V1044"/>
</g>
<text transform="translate(761.9,891.5) scale(1,1.03)" font-size="23" text-anchor="end">2</text>
<text transform="translate(761.9,967.3) scale(1,1.03)" font-size="23" text-anchor="end">0</text>
<text transform="translate(761.9,1043.5) scale(1,1.03)" font-size="23" text-anchor="end">-2</text>
<text transform="translate(819,1065.1) scale(1,1.06)" font-size="25.5" text-anchor="middle" stroke="#000" stroke-width="0.45">L</text>
<text transform="translate(892.4,1065.1) scale(1,1.06)" font-size="25.5" text-anchor="middle" stroke="#000" stroke-width="0.45">ML</text>
<text transform="translate(964.2,1065.1) scale(1,1.06)" font-size="25.5" text-anchor="middle" stroke="#000" stroke-width="0.45">MH</text>
<text transform="translate(1029.2,1065.1) scale(1,1.06)" font-size="25.5" text-anchor="middle" stroke="#000" stroke-width="0.45">H</text>
<g stroke="#000" stroke-opacity="0.5" stroke-width="1" fill="none">
<path d="M819.9,920.4 H1024.9"/>
<path d="M820.4,929.6 V920.9 M1024.4,920.9 V929.6" stroke-opacity="0.31"/>
<path d="M890.5,888 H1024.1"/>
<path d="M891,898 V888.5 M1023.6,888.5 V898" stroke-opacity="0.31"/>
</g>
<text x="922" y="917.5" font-size="26.2" text-anchor="middle" stroke="#000" stroke-width="0.55" stroke-linejoin="miter">++</text>
<text x="956.6" y="882.7" font-size="26.2" text-anchor="middle" stroke="#000" stroke-width="0.55" stroke-linejoin="miter">++</text>
<g stroke="#000" stroke-opacity="0.6" stroke-width="1" fill="none">
<path d="M820.4,980 V1001.4 M889.2,957.4 V966 M958,935.6 V957 M1027,940 V953"/>
<path d="M817.8,980 H823 M817.8,1001.4 H823 M886.6,957.4 H891.8 M886.6,966 H891.8 M955.4,935.6 H960.6 M955.4,957 H960.6 M1024.4,940 H1029.6 M1024.4,953 H1029.6" stroke-opacity="0.42"/>
</g>
<polyline points="820.4,970 889.2,966 958,946.4 1027,946.4" fill="none" stroke="#000000" stroke-width="2.6" stroke-linejoin="round"/>
<polyline points="820.4,991 889.2,980.4 958,960.6 1027,957.6" fill="none" stroke="#000000" stroke-width="2.6" stroke-linejoin="round"/>
<polyline points="820.4,983.4 889.2,974.6 958,974.6 1027,958.6" fill="none" stroke="#000000" stroke-width="2.6" stroke-linejoin="round"/>
<circle cx="820.4" cy="983.4" r="4.5" fill="#ffffff" stroke="#262626" stroke-width="1"/>
<circle cx="889.2" cy="974.6" r="4.5" fill="#ffffff" stroke="#262626" stroke-width="1"/>
<circle cx="958" cy="974.6" r="4.5" fill="#ffffff" stroke="#262626" stroke-width="1"/>
<circle cx="1027" cy="958.6" r="4.5" fill="#ffffff" stroke="#262626" stroke-width="1"/>
<rect x="816.1" y="965.7" width="8.6" height="8.6" fill="#ffffff" stroke="#262626" stroke-width="1"/>
<rect x="884.9" y="961.7" width="8.6" height="8.6" fill="#ffffff" stroke="#262626" stroke-width="1"/>
<rect x="953.7" y="942.1" width="8.6" height="8.6" fill="#ffffff" stroke="#262626" stroke-width="1"/>
<rect x="1022.7" y="942.1" width="8.6" height="8.6" fill="#ffffff" stroke="#262626" stroke-width="1"/>
<path d="M820.4,986.5 L824.6,994.7 L816.2,994.7 Z" fill="#ffffff" stroke="#262626" stroke-width="1"/>
<path d="M889.2,975.9 L893.4,984.1 L885,984.1 Z" fill="#ffffff" stroke="#262626" stroke-width="1"/>
<path d="M958,956.1 L962.2,964.3 L953.8,964.3 Z" fill="#ffffff" stroke="#262626" stroke-width="1"/>
<path d="M1027,953.1 L1031.2,961.3 L1022.8,961.3 Z" fill="#ffffff" stroke="#262626" stroke-width="1"/>
<text transform="translate(717,875) scale(1,1.04)" font-size="27.5" text-anchor="start" font-weight="bold">g</text>
<text transform="translate(726.2,1028.2) rotate(-90) scale(1,1.04)" font-size="28.5" textLength="76.3" lengthAdjust="spacingAndGlyphs" class="yl" stroke="#000" stroke-width="0.45"><tspan font-style="italic">Cov</tspan><tspan font-style="italic" font-size="17.1" dy="6.56">ON</tspan></text>
<text transform="translate(726.2,944.7) rotate(-90) scale(1,1.04)" font-size="28.5" textLength="50.4" lengthAdjust="spacingAndGlyphs" class="yl" stroke="#000" stroke-width="0.45"><tspan>(N</tspan><tspan font-size="17.67" dy="-8.55">2</tspan><tspan dy="8.55">)</tspan></text>
<g stroke="#000" stroke-opacity="0.5" stroke-width="1" fill="none">
<path d="M1187.4,883 V1044"/>
<path d="M1179.4,1036 H1470.5"/>
<path d="M1179.4,883 H1187.4"/>
<path d="M1179.4,959.4 H1187.4"/>
<path d="M1257.6,1036 V1044"/>
<path d="M1328.4,1036 V1044"/>
<path d="M1399.6,1036 V1044"/>
<path d="M1470.5,1036 V1044"/>
</g>
<text transform="translate(1164,890.9) scale(1,1.04)" font-size="23" text-anchor="end" stroke="#000" stroke-width="0.45">8</text>
<text transform="translate(1164,967.3) scale(1,1.04)" font-size="23" text-anchor="end" stroke="#000" stroke-width="0.45">4</text>
<text transform="translate(1164,1043.9) scale(1,1.04)" font-size="23" text-anchor="end" stroke="#000" stroke-width="0.45">0</text>
<text transform="translate(1223,1065.1) scale(1,1.06)" font-size="25.5" text-anchor="middle" stroke="#000" stroke-width="0.45">L</text>
<text transform="translate(1296.8,1065.1) scale(1,1.06)" font-size="25.5" text-anchor="middle" stroke="#000" stroke-width="0.45">ML</text>
<text transform="translate(1368.4,1065.1) scale(1,1.06)" font-size="25.5" text-anchor="middle" stroke="#000" stroke-width="0.45">MH</text>
<text transform="translate(1433.2,1065.1) scale(1,1.06)" font-size="25.5" text-anchor="middle" stroke="#000" stroke-width="0.45">H</text>
<g stroke="#000" stroke-opacity="0.5" stroke-width="1" fill="none">
</g>
<g stroke="#000" stroke-opacity="0.6" stroke-width="1" fill="none">
<path d="M1222.6,978.3 V1010.4 M1293.6,964.6 V1004.3 M1364.6,957.8 V995.8 M1435.4,965 V1005.4"/>
<path d="M1220,978.3 H1225.2 M1220,1006.6 H1225.2 M1220,990 H1225.2 M1220,1010.4 H1225.2 M1291,964.6 H1296.2 M1291,1002.2 H1296.2 M1291,985 H1296.2 M1291,1004.3 H1296.2 M1362,957.8 H1367.2 M1362,979.7 H1367.2 M1362,976.7 H1367.2 M1362,995.8 H1367.2 M1362,980 H1367.2 M1362,994 H1367.2 M1432.8,965 H1438 M1432.8,990 H1438 M1432.8,970.8 H1438 M1432.8,1005.4 H1438" stroke-opacity="0.42"/>
</g>
<polyline points="1222.6,995.4 1293.6,980 1364.6,988.6 1435.4,984.4" fill="none" stroke="#000000" stroke-width="2.6" stroke-linejoin="round"/>
<polyline points="1222.6,985.4 1293.6,993.4 1364.6,970 1435.4,980" fill="none" stroke="#000000" stroke-width="2.6" stroke-linejoin="round"/>
<polyline points="1222.6,997 1293.6,990.6 1364.6,986 1435.4,998" fill="none" stroke="#000000" stroke-width="2.6" stroke-linejoin="round"/>
<circle cx="1222.6" cy="997" r="4.5" fill="#ffffff" stroke="#262626" stroke-width="1"/>
<circle cx="1293.6" cy="990.6" r="4.5" fill="#ffffff" stroke="#262626" stroke-width="1"/>
<circle cx="1364.6" cy="986" r="4.5" fill="#ffffff" stroke="#262626" stroke-width="1"/>
<circle cx="1435.4" cy="998" r="4.5" fill="#ffffff" stroke="#262626" stroke-width="1"/>
<rect x="1218.3" y="991.1" width="8.6" height="8.6" fill="#ffffff" stroke="#262626" stroke-width="1"/>
<rect x="1289.3" y="975.7" width="8.6" height="8.6" fill="#ffffff" stroke="#262626" stroke-width="1"/>
<rect x="1360.3" y="984.3" width="8.6" height="8.6" fill="#ffffff" stroke="#262626" stroke-width="1"/>
<rect x="1431.1" y="980.1" width="8.6" height="8.6" fill="#ffffff" stroke="#262626" stroke-width="1"/>
<path d="M1222.6,980.9 L1226.8,989.1 L1218.4,989.1 Z" fill="#ffffff" stroke="#262626" stroke-width="1"/>
<path d="M1293.6,988.9 L1297.8,997.1 L1289.4,997.1 Z" fill="#ffffff" stroke="#262626" stroke-width="1"/>
<path d="M1364.6,965.5 L1368.8,973.7 L1360.4,973.7 Z" fill="#ffffff" stroke="#262626" stroke-width="1"/>
<path d="M1435.4,975.5 L1439.6,983.7 L1431.2,983.7 Z" fill="#ffffff" stroke="#262626" stroke-width="1"/>
<text transform="translate(1124,875) scale(1,1.04)" font-size="27.5" text-anchor="start" font-weight="bold">h</text>
<text transform="translate(1135.2,1033.2) rotate(-90) scale(1,1.04)" font-size="28.5" textLength="79.4" lengthAdjust="spacingAndGlyphs" class="yl" stroke="#000" stroke-width="0.45"><tspan font-style="italic">Var</tspan><tspan font-style="italic" font-size="17.1" dy="4.85">OFF</tspan></text>
<text transform="translate(1135.2,947.4) rotate(-90) scale(1,1.04)" font-size="28.5" textLength="51.1" lengthAdjust="spacingAndGlyphs" class="yl" stroke="#000" stroke-width="0.45"><tspan>(N</tspan><tspan font-size="17.67" dy="-8.55">2</tspan><tspan dy="8.55">)</tspan></text>
<g stroke="#000" stroke-opacity="0.5" stroke-width="1" fill="none">
<path d="M1586.4,883.4 V1043.6"/>
<path d="M1578.4,1035.6 H1854.6"/>
<path d="M1578.4,883.4 H1586.4"/>
<path d="M1578.4,959.6 H1586.4"/>
<path d="M1653.4,1035.6 V1043.6"/>
<path d="M1720.4,1035.6 V1043.6"/>
<path d="M1787.4,1035.6 V1043.6"/>
<path d="M1854.6,1035.6 V1043.6"/>
</g>
<text transform="translate(1563,891.3) scale(1,1.04)" font-size="23" text-anchor="end" stroke="#000" stroke-width="0.45">4</text>
<text transform="translate(1563,967.5) scale(1,1.04)" font-size="23" text-anchor="end" stroke="#000" stroke-width="0.45">0</text>
<text transform="translate(1563,1043.5) scale(1,1.04)" font-size="23" text-anchor="end" stroke="#000" stroke-width="0.45">-4</text>
<text transform="translate(1615.4,1065.1) scale(1,1.06)" font-size="25.5" text-anchor="middle" stroke="#000" stroke-width="0.45">L</text>
<text transform="translate(1688.8,1065.1) scale(1,1.06)" font-size="25.5" text-anchor="middle" stroke="#000" stroke-width="0.45">ML</text>
<text transform="translate(1760.4,1065.1) scale(1,1.06)" font-size="25.5" text-anchor="middle" stroke="#000" stroke-width="0.45">MH</text>
<text transform="translate(1825.8,1065.1) scale(1,1.06)" font-size="25.5" text-anchor="middle" stroke="#000" stroke-width="0.45">H</text>
<g stroke="#000" stroke-opacity="0.5" stroke-width="1" fill="none">
<path d="M1611.9,920.6 H1751.9"/>
<path d="M1612.4,930 V921.1 M1751.4,921.1 V930" stroke-opacity="0.31"/>
<path d="M1683.5,887 H1751.5"/>
<path d="M1684,897 V887.5 M1751,887.5 V897" stroke-opacity="0.31"/>
<path d="M1682.9,857 H1819.5"/>
<path d="M1683.4,867 V857.5 M1819,857.5 V867" stroke-opacity="0.31"/>
</g>
<text x="1687.2" y="918.95" font-size="27" text-anchor="middle" stroke="#000" stroke-width="0.55" stroke-linejoin="miter">+</text>
<text x="1720" y="885.95" font-size="27" text-anchor="middle" stroke="#000" stroke-width="0.55" stroke-linejoin="miter">+</text>
<text x="1751.6" y="854.95" font-size="27" text-anchor="middle" stroke="#000" stroke-width="0.55" stroke-linejoin="miter">+</text>
<text transform="translate(1753,957.3) scale(1,1.04)" font-size="27" text-anchor="middle" font-weight="bold">*</text>
<g stroke="#6a6a6a" stroke-opacity="0.9" stroke-width="1.35" fill="none">
<path d="M1620,984.1 V1014.4 M1687,985.4 V1016.3 M1754,951.6 V986.2 M1754,993.6 V1012.3 M1821.4,903 V959.2 M1821.4,966.2 V984.1"/>
<path d="M1617.4,984.1 H1622.6 M1617.4,1008 H1622.6 M1617.4,1000 H1622.6 M1617.4,1014.4 H1622.6 M1684.4,987.9 H1689.6 M1684.4,1016.3 H1689.6 M1684.4,985.4 H1689.6 M1684.4,1006 H1689.6 M1751.4,951.6 H1756.6 M1751.4,980.3 H1756.6 M1751.4,958.8 H1756.6 M1751.4,986.2 H1756.6 M1751.4,993.6 H1756.6 M1751.4,1012.3 H1756.6 M1818.8,903 H1824 M1818.8,959.2 H1824 M1818.8,918 H1824 M1818.8,947.8 H1824 M1818.8,966.2 H1824 M1818.8,984.1 H1824" stroke-opacity="0.72"/>
</g>
<polyline points="1620,995.6 1687,1001.3 1754,965.6 1821.4,933.4" fill="none" stroke="#ffffff" stroke-width="2.6" stroke-linejoin="round"/>
<polyline points="1620,1008.6 1687,996 1754,972.4 1821.4,932" fill="none" stroke="#000000" stroke-width="2.6" stroke-linejoin="round"/>
<polyline points="1620,997.6 1687,1002.2 1754,1003 1821.4,975.4" fill="none" stroke="#000000" stroke-width="2.6" stroke-linejoin="round"/>
<circle cx="1620" cy="997.6" r="4.5" fill="#ffffff" stroke="#262626" stroke-width="1"/>
<circle cx="1687" cy="1002.2" r="4.5" fill="#ffffff" stroke="#262626" stroke-width="1"/>
<circle cx="1754" cy="1003" r="4.5" fill="#ffffff" stroke="#262626" stroke-width="1"/>
<circle cx="1821.4" cy="975.4" r="4.5" fill="#ffffff" stroke="#262626" stroke-width="1"/>
<rect x="1615.7" y="991.3" width="8.6" height="8.6" fill="#ffffff" stroke="#262626" stroke-width="1"/>
<rect x="1682.7" y="997" width="8.6" height="8.6" fill="#ffffff" stroke="#262626" stroke-width="1"/>
<rect x="1749.7" y="961.3" width="8.6" height="8.6" fill="#ffffff" stroke="#262626" stroke-width="1"/>
<rect x="1817.1" y="929.1" width="8.6" height="8.6" fill="#ffffff" stroke="#262626" stroke-width="1"/>
<path d="M1620,1004.1 L1624.2,1012.3 L1615.8,1012.3 Z" fill="#ffffff" stroke="#262626" stroke-width="1"/>
<path d="M1687,991.5 L1691.2,999.7 L1682.8,999.7 Z" fill="#ffffff" stroke="#262626" stroke-width="1"/>
<path d="M1754,967.9 L1758.2,976.1 L1749.8,976.1 Z" fill="#ffffff" stroke="#262626" stroke-width="1"/>
<path d="M1821.4,927.5 L1825.6,935.7 L1817.2,935.7 Z" fill="#ffffff" stroke="#262626" stroke-width="1"/>
<text transform="translate(1526,874.6) scale(1,1.04)" font-size="27.5" text-anchor="start" font-weight="bold">i</text>
<text transform="translate(1533.8,1032.9) rotate(-90) scale(1,1.04)" font-size="28.5" textLength="84.4" lengthAdjust="spacingAndGlyphs" class="yl" stroke="#000" stroke-width="0.45"><tspan font-style="italic">Cov</tspan><tspan font-style="italic" font-size="17.1" dy="6.84">OFF</tspan></text>
<text transform="translate(1533.8,944.7) rotate(-90) scale(1,1.04)" font-size="28.5" textLength="53.8" lengthAdjust="spacingAndGlyphs" class="yl" stroke="#000" stroke-width="0.45"><tspan>(N</tspan><tspan font-size="17.67" dy="-8.55">2</tspan><tspan dy="8.55">)</tspan></text>
<path d="M1526.5,78.5 H1554" stroke="#000" stroke-width="2.5"/>
<rect x="1535.5" y="74.1" width="8.8" height="8.8" fill="#ffffff" stroke="#262626" stroke-width="1"/>
<text transform="translate(1572.6,88.8) scale(1,1.04)" font-size="28" text-anchor="start" stroke="#000" stroke-width="0.5">F</text>
<path d="M1526.5,112.3 H1554" stroke="#000" stroke-width="2.5"/>
<path d="M1539.9,105.7 L1545.4,116.3 L1534.4,116.3 Z" fill="#ffffff" stroke="#262626" stroke-width="1"/>
<text transform="translate(1572.6,121.9) scale(1,1.04)" font-size="28" text-anchor="start" stroke="#000" stroke-width="0.5">I</text>
<path d="M1526.5,144.3 H1554" stroke="#000" stroke-width="2.5"/>
<circle cx="1539.9" cy="144.3" r="5" fill="#ffffff" stroke="#262626" stroke-width="1"/>
<text transform="translate(1572.6,155.4) scale(1,1.04)" font-size="28" text-anchor="start" stroke="#000" stroke-width="0.5">FI</text>
</svg></body></html>
